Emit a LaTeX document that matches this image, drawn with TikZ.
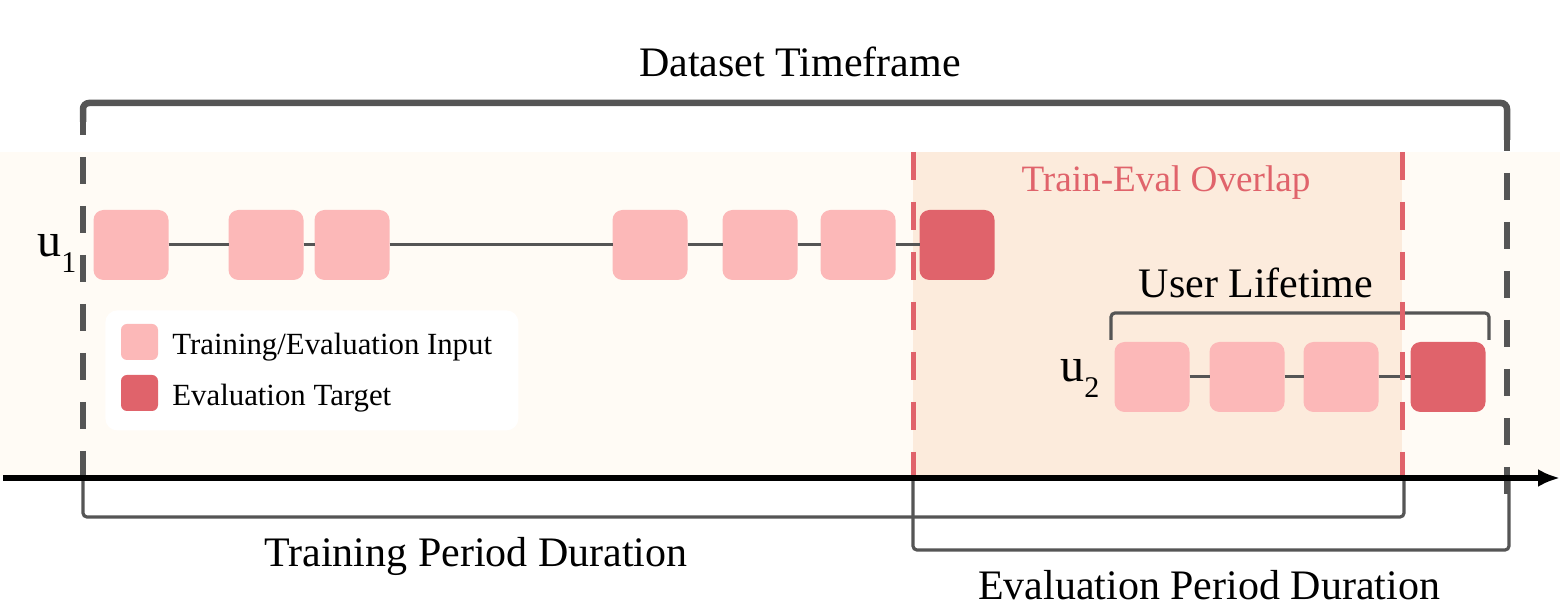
\documentclass[tikz,border=0pt]{standalone}
\usepackage{fontspec}
\setmainfont{Liberation Serif}
\usepackage{xcolor}
\usepackage{tikz}
\usetikzlibrary{arrows.meta}
\usetikzlibrary{shapes,positioning}
\definecolor{band-cream}{RGB}{255,251,245}
\definecolor{overlap-peach}{RGB}{252,235,220}
\definecolor{input-pink}{RGB}{252,184,184}
\definecolor{target-red}{RGB}{224,99,107}
\definecolor{bracket-grey}{RGB}{85,85,85}
\newcommand{\usersub}[1]{\raisebox{-0.33em}{\fontsize{15}{15}\selectfont #1}}
\tikzset{>=latex}
\tikzset{event-input/.style={inner sep=0, outer sep=0, minimum width=37.5pt, minimum height=35pt, rounded corners=5pt, fill=input-pink}}
\tikzset{event-target/.style={event-input, fill=target-red}}
\tikzset{key-box/.style={inner sep=0, outer sep=0, minimum width=18.5pt, minimum height=18pt, rounded corners=3pt}}
\tikzset{seq-line/.style={line width=1.5pt, draw=bracket-grey}}
\tikzset{span-line/.style={line width=1.6pt, draw=bracket-grey, rounded corners=2pt}}
\tikzset{frame-line/.style={line width=3.25pt, draw=bracket-grey}}
\tikzset{frame-dash/.style={frame-line, dash pattern=on 13.5pt off 11pt}}
\tikzset{split-dash/.style={line width=2.5pt, draw=target-red, dash pattern=on 14pt off 11pt}}
\tikzset{big-label/.style={inner sep=0, font=\fontsize{21}{25}\selectfont}}
\tikzset{key-label/.style={inner sep=0, font=\fontsize{15.4}{18}\selectfont}}
\tikzset{user-label/.style={inner sep=0, font=\fontsize{24}{28}\selectfont}}

\begin{document}
\begin{tikzpicture}[x=0.5pt, y=-0.5pt]
            \useasboundingbox (0,0) rectangle (1560,614);

            % background band and overlap window
            \fill[band-cream] (0,152) rectangle (1560,476);
            \fill[overlap-peach] (913,152) rectangle (1402,476);

            % legend
            \node[fill=white, rounded corners=6pt, minimum width=206.5pt, minimum height=60pt, anchor=north west] (legend-box) at (105,310) {};
            \node[key-box, fill=input-pink, anchor=north west] (key-input) at (121,324) {};
            \node[key-box, fill=target-red, anchor=north west] (key-target) at (121,375) {};
            \node[key-label, right=7pt of key-input, yshift=-2.5pt] (key-input-text) {Training/Evaluation Input};
            \node[key-label, right=7pt of key-target, yshift=-2.5pt] (key-target-text) {Evaluation Target};

            % user 1
            \node[user-label, anchor=base west] (u1-label) at (37,257) {u\usersub{1}};
            \node[event-input] (u1-e1) at (131,245) {};
            \node[event-input, right=30pt of u1-e1] (u1-e2) {};
            \node[event-input, right=5.5pt of u1-e2] (u1-e3) {};
            \node[event-input, right=111.5pt of u1-e3] (u1-e4) {};
            \node[event-input, right=17.5pt of u1-e4] (u1-e5) {};
            \node[event-input, right=11.5pt of u1-e5] (u1-e6) {};
            \node[event-target, right=12pt of u1-e6] (u1-e7) {};

            \draw[seq-line] (u1-e1) -- (u1-e2);
            \draw[seq-line] (u1-e2) -- (u1-e3);
            \draw[seq-line] (u1-e3) -- (u1-e4);
            \draw[seq-line] (u1-e4) -- (u1-e5);
            \draw[seq-line] (u1-e5) -- (u1-e6);
            \draw[seq-line] (u1-e6) -- (u1-e7);

            % user 2
            \node[user-label, anchor=base west] (u2-label) at (1060,382) {u\usersub{2}};
            \node[event-input] (u2-e1) at (1152,377) {};
            \node[event-input, right=10pt of u2-e1] (u2-e2) {};
            \node[event-input, right=9.5pt of u2-e2] (u2-e3) {};
            \node[event-target, right=16pt of u2-e3] (u2-e4) {};

            \draw[seq-line] (u2-e1) -- (u2-e2);
            \draw[seq-line] (u2-e2) -- (u2-e3);
            \draw[seq-line] (u2-e3) -- (u2-e4);

            \draw[span-line] (1111,340) -- (1111,313) -- (1489,313) -- (1489,340);
            \node[big-label, anchor=base] (lifetime-label) at (1256,298) {User Lifetime};

            % train/eval split
            \draw[split-dash] (913,152) -- (913,476);
            \draw[split-dash] (1402,152) -- (1402,476);
            \node[inner sep=0, font=\fontsize{18.6}{22}\selectfont, text=target-red, anchor=base] (overlap-label) at (1166,192) {Train-Eval Overlap};

            % dataset timeframe
            \draw[frame-line, rounded corners=3pt] (83,122) -- (83,103) -- (1507,103) -- (1507,140);
            \draw[frame-dash] (83,108) -- (83,478);
            \draw[frame-dash] (1507,124) -- (1507,497);
            \node[big-label, anchor=base] (timeframe-label) at (800,77) {Dataset Timeframe};

            % period brackets
            \draw[span-line] (83,478) -- (83,517) -- (1404,517) -- (1404,478);
            \draw[span-line] (913,478) -- (913,550) -- (1509,550) -- (1509,478);
            \node[big-label, anchor=base] (train-label) at (476,567) {Training Period Duration};
            \node[big-label, anchor=base] (eval-label) at (1209,600) {Evaluation Period Duration};

            % time axis
            \coordinate (axis-start) at (3,478);
            \coordinate (axis-end) at (1560,478);
            \draw[line width=3.25pt, -{Latex[length=11pt, width=9pt]}] (axis-start) -- (axis-end);

        \end{tikzpicture}
\end{document}
